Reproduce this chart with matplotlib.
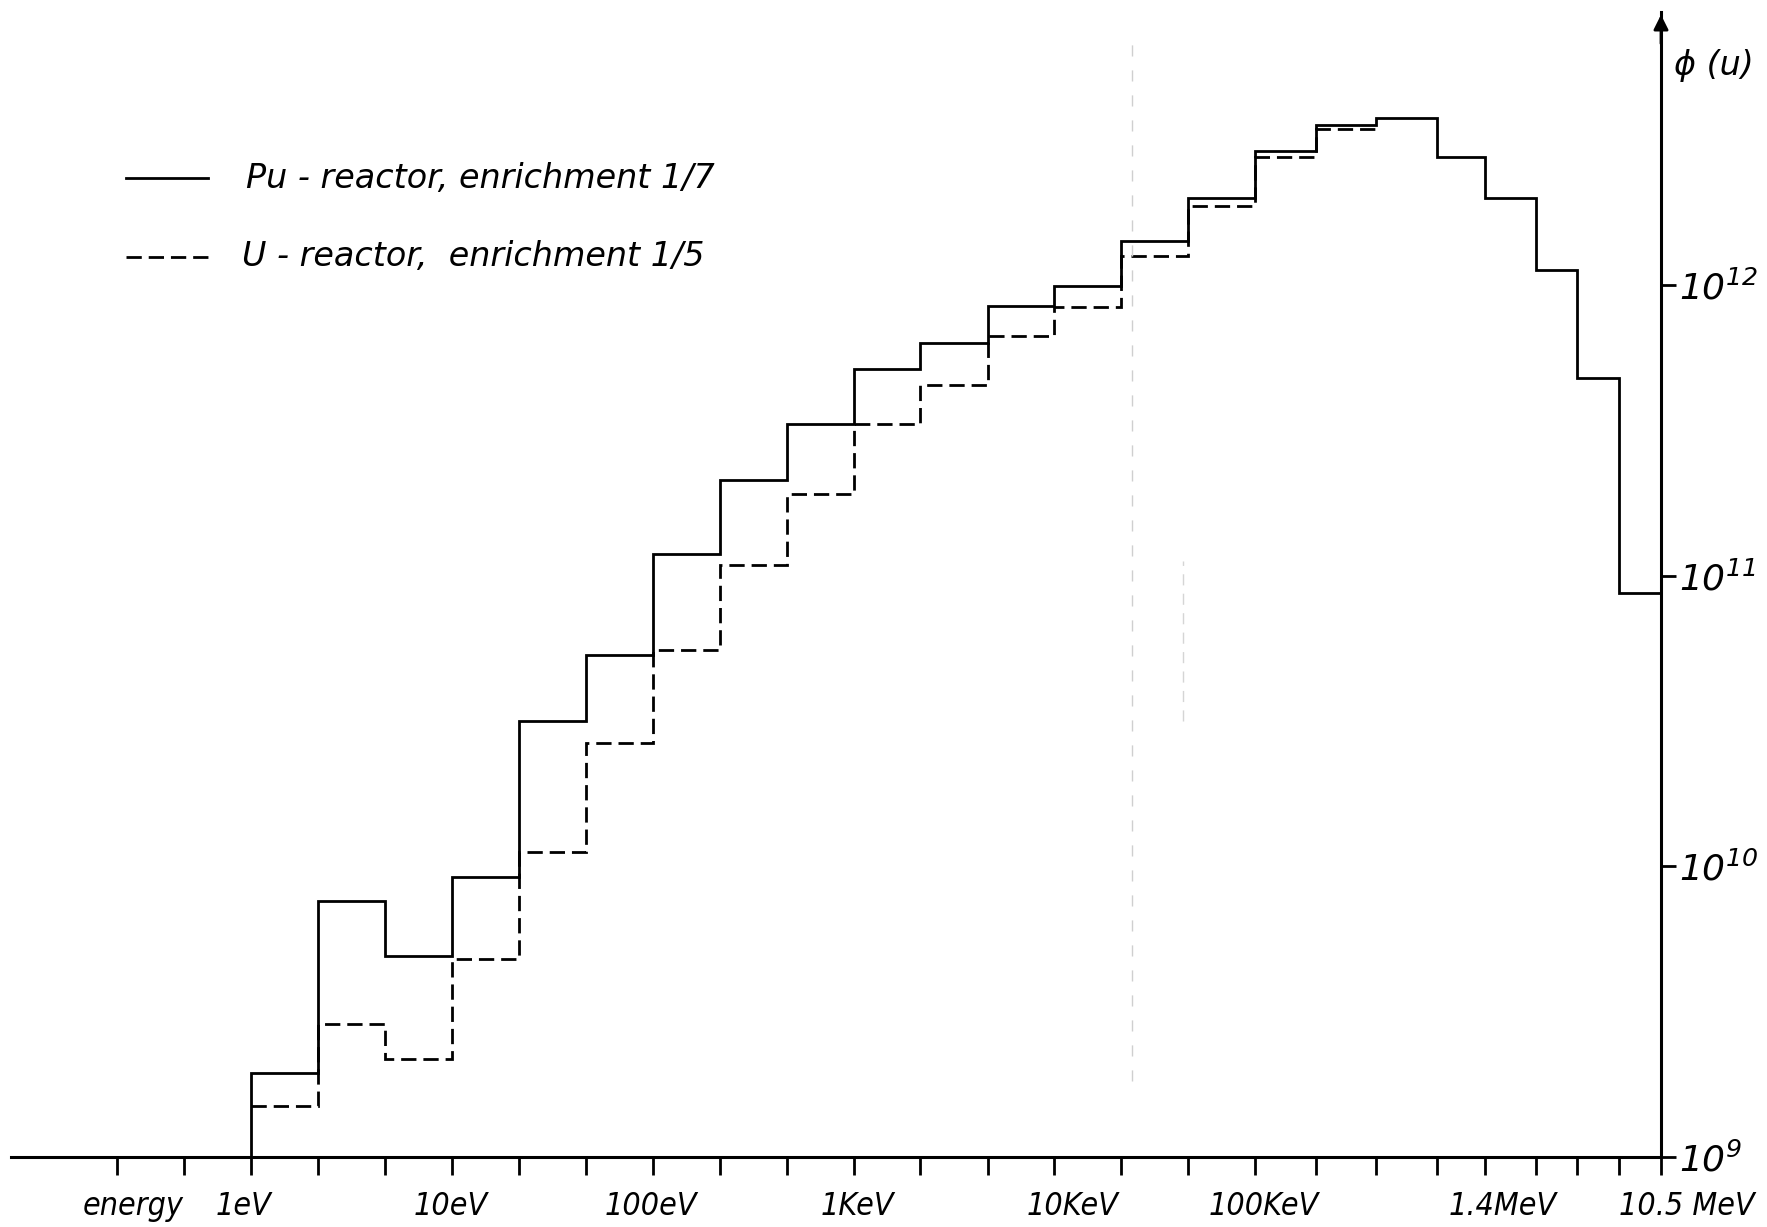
import matplotlib
matplotlib.use("Agg")
import matplotlib.pyplot as plt
from matplotlib.lines import Line2D
import matplotlib.transforms as mtransforms

plt.rcParams.update({'font.family': 'DejaVu Sans', 'font.style': 'italic',
                     'mathtext.default': 'it'})

# ABBN group boundaries (eV), 1 eV .. 10.5 MeV
edges = [1, 2.15, 4.65, 10, 21.5, 46.5, 100, 215, 465, 1e3, 2.15e3, 4.65e3,
         1e4, 2.15e4, 4.65e4, 1e5, 2e5, 4e5, 8e5, 1.4e6, 2.5e6, 4e6, 6.5e6, 10.5e6]
# extra boundaries below 1 eV that only carry ticks
low_edges = [0.215, 0.465]

# group flux per unit lethargy
phi_pu = [1.95e9, 7.6e9, 4.9e9, 9.2e9, 3.17e10, 5.33e10, 1.19e11, 2.13e11,
          3.32e11, 5.15e11, 6.31e11, 8.46e11, 9.9e11, 1.42e12, 2.0e12, 2.9e12,
          3.55e12, 3.75e12, 2.76e12, 2.0e12, 1.13e12, 4.8e11, 8.7e10]
phi_u = [1.5e9, 2.87e9, 2.17e9, 4.79e9, 1.12e10, 2.65e10, 5.57e10, 1.09e11,
         1.91e11, 3.32e11, 4.53e11, 6.68e11, 8.4e11, 1.26e12, 1.87e12, 2.76e12,
         3.45e12]

energy_labels = ['energy', '1eV', '10eV', '100eV', '1KeV', '10KeV', '100KeV',
                 '1.4MeV', '10.5 MeV']
label_x = [0.257, 0.92, 9.8, 98, 1.05e3, 1.23e4, 1.11e5, 1.7e6, 1.42e7]

ytick_vals = [1e9, 1e10, 1e11, 1e12]
ytick_labels = [r'$10^{9}$', r'$10^{10}$', r'$10^{11}$', r'$10^{12}$']

W, H = 1767, 1227
fig = plt.figure(figsize=(W / 100, H / 100), dpi=100)
ax = fig.add_axes([11 / W, 1 - 1157 / H, (1661 - 11) / W, (1157 - 12) / H])

ls_dash = (0, (5.5, 2.5))
lw = 2.0

ax.stairs(phi_pu, edges, baseline=1e9, color='black', lw=lw, clip_on=False)
ax.stairs(phi_u, edges[:len(phi_u) + 1], baseline=None, color='black', lw=lw,
          linestyle=ls_dash)

# faint fold marks on the sheet
ax.plot([2.43e4, 2.43e4], [10**9.26, 10**12.83], color='#cfcfcf', lw=1.0,
        linestyle=(0, (8, 10)))
ax.plot([4.37e4, 4.37e4], [10**10.5, 10**11.05], color='#d5d5d5', lw=1.0,
        linestyle=(0, (8, 6)))

ax.set_xscale('log')
ax.set_yscale('log')
ax.set_xlim(0.0636, 10.5e6)
ax.set_ylim(1e9, 10**12.94)

for s in ['top', 'left']:
    ax.spines[s].set_visible(False)
ax.spines['bottom'].set_linewidth(2.2)
ax.spines['right'].set_linewidth(2.2)

ax.set_xticks(low_edges + edges)
ax.set_xticklabels([])
ax.xaxis.set_minor_locator(plt.NullLocator())
ax.tick_params(axis='x', direction='out', length=13, width=2.0)

ax.yaxis.tick_right()
ax.set_yticks(ytick_vals)
ax.set_yticklabels(ytick_labels)
ax.yaxis.set_minor_locator(plt.NullLocator())
ax.tick_params(axis='y', direction='out', length=11, width=2.0, pad=2,
               labelsize=26)

# energy labels under the axis
trans = mtransforms.blended_transform_factory(ax.transData, ax.transAxes)
for xpos, lab in zip(label_x, energy_labels):
    ax.text(xpos, -0.043, lab, transform=trans, ha='center', va='center',
            fontsize=23, fontstretch='condensed', clip_on=False)

# arrow on the flux axis and its name
ax.annotate('', xy=(1, 1.0), xytext=(1, 0.97), xycoords='axes fraction',
            arrowprops=dict(arrowstyle='-|>', color='black', lw=2,
                            mutation_scale=22))
fig.text(1714 / W, 1 - 65 / H, r'ϕ (u)', ha='center', va='center', fontsize=24)

# legend drawn by hand
fig.add_artist(Line2D([126 / W, 208 / W], [1 - 178 / H] * 2, color='black',
                      lw=lw))
fig.add_artist(Line2D([126 / W, 208 / W], [1 - 257 / H] * 2, color='black',
                      lw=lw, linestyle=ls_dash))
fig.text(246 / W, 1 - 178 / H, 'Pu - reactor, enrichment 1/7', ha='left',
         va='center', fontsize=24)
fig.text(242 / W, 1 - 257 / H, 'U - reactor,  enrichment 1/5', ha='left',
         va='center', fontsize=24)

fig.savefig('out.png', dpi=100)
